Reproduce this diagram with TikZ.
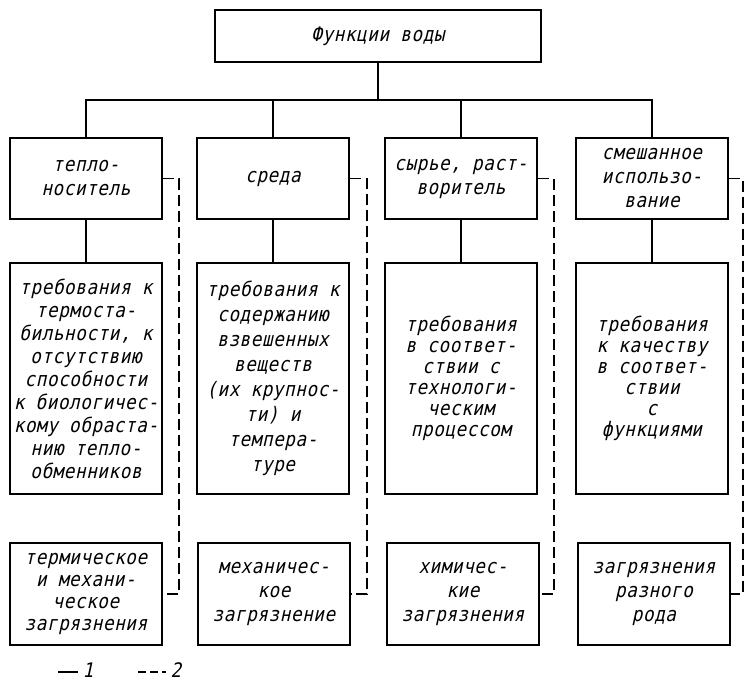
\documentclass[tikz,border=0pt]{standalone}
\usepackage{fontspec}
\setmainfont{DejaVu Sans Mono}[FakeSlant=0.22, FakeStretch=0.88, LetterSpace=3]
\usepackage{tikz}
\usetikzlibrary{positioning, calc}

\begin{document}
\begin{tikzpicture}[
        x=1pt, y=-1pt,
        every node/.style={
            font=\fontsize{20}{24}\selectfont
        },
        box/.style={
            rectangle,
            draw=black,
            line width=1.6pt,
            minimum width=152pt,
            align=center,
            inner sep=1pt
        },
        topbox/.style={box, minimum height=81pt},
        reqbox/.style={box, minimum height=231pt},
        dirtbox/.style={box, minimum height=102pt},
        link/.style={
            line width=1.5pt,
            black
        },
        dlink/.style={
            line width=1.5pt,
            black,
            dash pattern=on 11pt off 5pt
        }
    ]
    \useasboundingbox (0,0) rectangle (745,681);

    % Root
    \node[box, minimum width=326pt, minimum height=52pt] (functions) at (378, 36) {Функции воды};
    \coordinate (bar) at (378, 100);

    % Functions tier
    \node[topbox] (carrier) at (86, 178.5) {тепло-\\носитель};
    \node[topbox] (medium) at (273, 178.5) {среда};
    \node[topbox] (solvent) at (461, 178.5) {сырье, раст-\\воритель};
    \node[topbox] (mixed) at (652, 178.5) {смешанное\\использо-\\вание};

    % Requirements tier
    \node[reqbox, font=\fontsize{20}{23}\selectfont] (reqcarrier) at (86, 378.5) {требования к\\термоста-\\бильности, к\\отсутствию\\способности\\к биологичес-\\кому обраста-\\нию тепло-\\обменников};
    \node[reqbox, font=\fontsize{20}{25}\selectfont] (reqmedium) at (273, 378.5) {требования к\\содержанию\\взвешенных\\веществ\\(их крупнос-\\ти) и\\темпера-\\туре};
    \node[reqbox, font=\fontsize{20}{21}\selectfont] (reqsolvent) at (461, 378.5) {требования\\в соответ-\\ствии с\\технологи-\\ческим\\процессом};
    \node[reqbox, font=\fontsize{20}{21}\selectfont] (reqmixed) at (652, 378.5) {требования\\к качеству\\в соответ-\\ствии\\с\\функциями};

    % Pollution tier
    \node[dirtbox, font=\fontsize{20}{22}\selectfont] (dirtcarrier) at (86, 594) {термическое\\и механи-\\ческое\\загрязнения};
    \node[dirtbox] (dirtmedium) at (274, 594) {механичес-\\кое\\загрязнение};
    \node[dirtbox] (dirtsolvent) at (463, 594) {химичес-\\кие\\загрязнения};
    \node[dirtbox] (dirtmixed) at (654, 594) {загрязнения\\разного\\рода};

    % Solid links
    \draw[link] (functions) -- (bar);
    \draw[link] (carrier.north) |- (bar) -| (mixed.north);
    \draw[link] (medium.north) -- (medium.north |- bar);
    \draw[link] (solvent.north) -- (solvent.north |- bar);
    \draw[link] (carrier) -- (reqcarrier);
    \draw[link] (medium) -- (reqmedium);
    \draw[link] (solvent) -- (reqsolvent);
    \draw[link] (mixed) -- (reqmixed);

    % Dashed links
    \draw[dlink] (carrier.east) -- ++(16,0) |- (dirtcarrier.east);
    \draw[dlink] (medium.east) -- ++(17,0) |- (dirtmedium.east);
    \draw[dlink] (solvent.east) -- ++(16,0) |- (dirtsolvent.east);
    \draw[dlink] (mixed.east) -- ++(14,0) |- (dirtmixed.east);

    % Legend
    \node (legone) at (88, 670) {1};
    \node (legtwo) at (176, 670) {2};
    \coordinate (solidstart) at (58, 672);
    \coordinate (dashstart) at (138, 672);
    \draw[link] (solidstart) -- ++(20,0);
    \draw[link, dash pattern=on 8pt off 4pt] (dashstart) -- ++(28,0);

\end{tikzpicture}
\end{document}
